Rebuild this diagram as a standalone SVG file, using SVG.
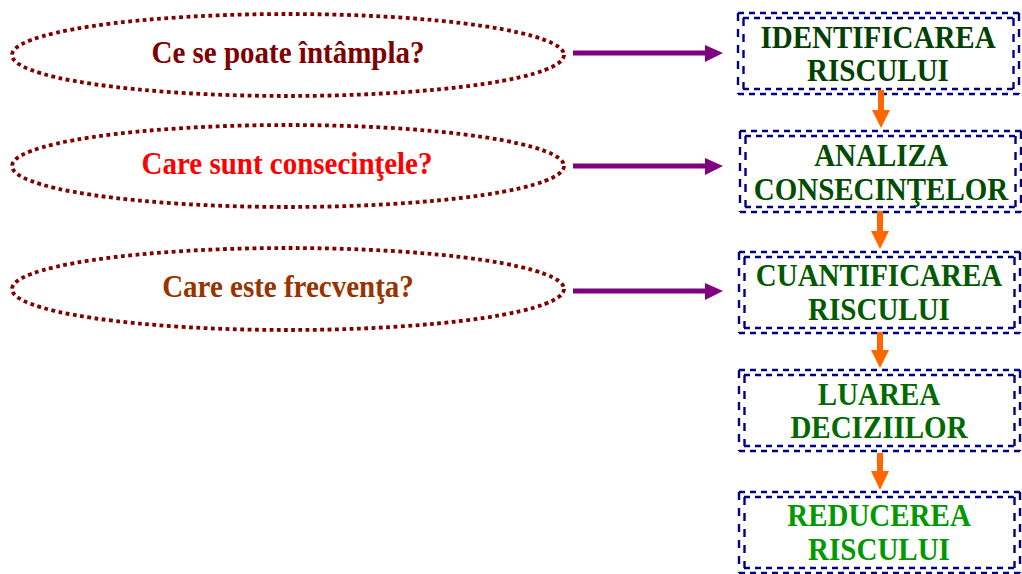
<svg xmlns="http://www.w3.org/2000/svg" width="1022" height="574" viewBox="0 0 1022 574">
<defs>
<style>
.ell{fill:none;stroke:#800000;stroke-width:3.8;stroke-dasharray:3.8 3.5}
.bh{stroke:#000080;stroke-width:2.4;stroke-dasharray:6 5}
.bv{stroke:#000080;stroke-width:2.4;stroke-dasharray:8 8}
.t{font-family:"Liberation Serif",serif;font-weight:bold;font-size:29px;text-anchor:middle}
.pl{stroke:#800080;stroke-width:5}
.pa{fill:#800080}
.ol{stroke:#FF6600;stroke-width:6}
.oa{fill:#FF6600}
</style>
<g id="frame">
<line class="bh" x1="0" y1="0" x2="281" y2="0"/>
<line class="bh" x1="0" y1="81" x2="281" y2="81"/>
<line class="bh" x1="5" y1="5" x2="276" y2="5"/>
<line class="bh" x1="5" y1="76" x2="276" y2="76"/>
<line class="bv" x1="0" y1="0" x2="0" y2="81"/>
<line class="bv" x1="281" y1="0" x2="281" y2="81"/>
<line class="bv" x1="5.5" y1="5" x2="5.5" y2="76"/>
<line class="bv" x1="275.5" y1="5" x2="275.5" y2="76"/>
</g>
</defs>
<rect width="1022" height="574" fill="#fff"/>
<g id="q1">
<ellipse class="ell" cx="288" cy="55" rx="276" ry="41"/>
<text class="t" transform="translate(288,63) scale(1,1.08)" fill="#800000">Ce se poate întâmpla?</text>
</g>
<g id="q2">
<ellipse class="ell" cx="288" cy="166" rx="276" ry="41"/>
<text class="t" transform="translate(287,174) scale(1,1.08)" fill="#FF0000">Care sunt consecinţele?</text>
</g>
<g id="q3">
<ellipse class="ell" cx="288" cy="289" rx="276" ry="41"/>
<text class="t" transform="translate(288,297) scale(1,1.08)" fill="#993300">Care este frecvenţa?</text>
</g>
<g id="b1">
<use href="#frame" x="738" y="13"/>
<text class="t" transform="translate(878,48) scale(1,1.08)" fill="#004000">IDENTIFICAREA</text>
<text class="t" transform="translate(878,81) scale(1,1.08)" fill="#004000">RISCULUI</text>
</g>
<g id="b2">
<use href="#frame" x="740" y="131"/>
<text class="t" transform="translate(881,166) scale(1,1.08)" fill="#004d00">ANALIZA</text>
<text class="t" transform="translate(881,200) scale(1,1.08)" fill="#004d00">CONSECINŢELOR</text>
</g>
<g id="b3">
<use href="#frame" x="739" y="252"/>
<text class="t" transform="translate(879,286) scale(1,1.08)" fill="#005a00">CUANTIFICAREA</text>
<text class="t" transform="translate(879,320) scale(1,1.08)" fill="#005a00">RISCULUI</text>
</g>
<g id="b4">
<use href="#frame" x="739" y="370"/>
<text class="t" transform="translate(879,405) scale(1,1.08)" fill="#006a00">LUAREA</text>
<text class="t" transform="translate(879,438) scale(1,1.08)" fill="#006a00">DECIZIILOR</text>
</g>
<g id="b5">
<use href="#frame" x="739" y="492"/>
<text class="t" transform="translate(879,526) scale(1,1.08)" fill="#009900">REDUCEREA</text>
<text class="t" transform="translate(879,560) scale(1,1.08)" fill="#009900">RISCULUI</text>
</g>
<g id="connectors">
<line class="pl" x1="573" y1="53" x2="707" y2="53"/>
<polygon class="pa" points="705,45 723,53 705,62"/>
<line class="pl" x1="573" y1="166" x2="707" y2="166"/>
<polygon class="pa" points="705,158 723,166 705,175"/>
<line class="pl" x1="573" y1="291" x2="707" y2="291"/>
<polygon class="pa" points="705,283 723,291 705,300"/>
<line class="ol" x1="881" y1="90" x2="881" y2="112"/>
<polygon class="oa" points="872,110 890,110 881,128"/>
<line class="ol" x1="880" y1="211" x2="880" y2="233"/>
<polygon class="oa" points="871,231 889,231 880,249"/>
<line class="ol" x1="880" y1="332" x2="880" y2="352"/>
<polygon class="oa" points="871,350 889,350 880,368"/>
<line class="ol" x1="880" y1="453" x2="880" y2="473"/>
<polygon class="oa" points="871,471 889,471 880,490"/>
</g>
</svg>
